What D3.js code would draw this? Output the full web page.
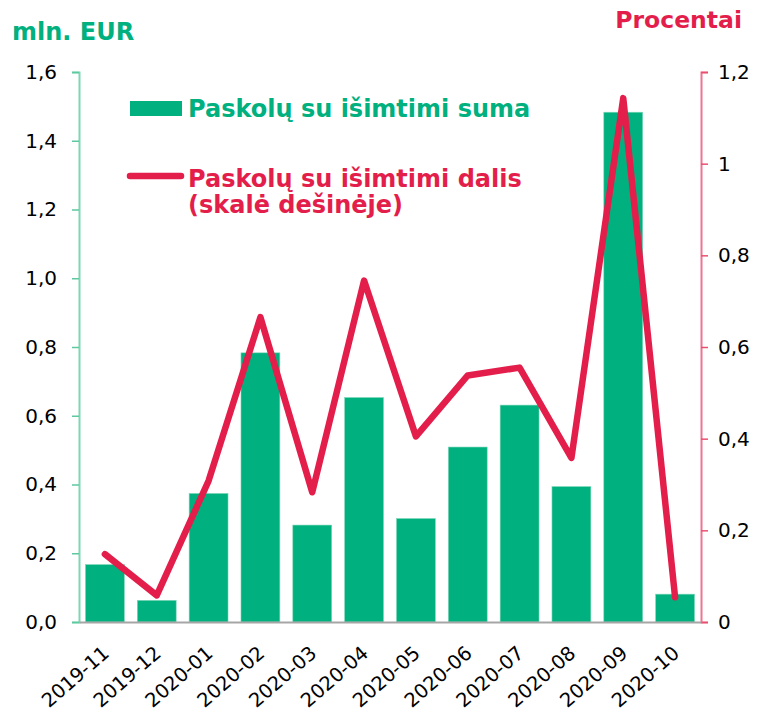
<!DOCTYPE html>
<html>
<head>
<meta charset="utf-8">
<script src="https://cdn.jsdelivr.net/npm/d3@7"></script>
<style>
  body { margin: 0; background: #fff; }
  svg text { font-family: "DejaVu Sans", Verdana, sans-serif; }
</style>
</head>
<body>
<div id="chart"></div>
<script>
// months on the x axis
const months = ["2019-11", "2019-12", "2020-01", "2020-02", "2020-03", "2020-04",
                "2020-05", "2020-06", "2020-07", "2020-08", "2020-09", "2020-10"];
// mln. EUR (left scale, bars)
const loanSum = [0.167, 0.063, 0.374, 0.783, 0.282, 0.653, 0.301, 0.509, 0.631, 0.394, 1.483, 0.081];
// percent (right scale, line)
const loanShare = [0.148, 0.058, 0.308, 0.665, 0.283, 0.745, 0.405, 0.538, 0.555, 0.358, 1.143, 0.054];

const leftTicks = [0, 0.2, 0.4, 0.6, 0.8, 1.0, 1.2, 1.4, 1.6];
const rightTicks = [0, 0.2, 0.4, 0.6, 0.8, 1.0, 1.2];

const green = "#00b07e";
const red = "#e31e4b";

const width = 759, height = 716;
const margin = {top: 72, right: 58, bottom: 94, left: 79};

const svg = d3.select("#chart").append("svg")
    .attr("width", width)
    .attr("height", height);

const xScale = d3.scaleBand()
    .domain(months)
    .range([margin.left, width - margin.right])
    .paddingInner(0.25)
    .paddingOuter(0.125);

const yLeft = d3.scaleLinear().domain([0, 1.6]).range([height - margin.bottom, margin.top]);
const yRight = d3.scaleLinear().domain([0, 1.2]).range([height - margin.bottom, margin.top]);

const fmtComma = d => d3.format(".1f")(d).replace(".", ",");
const fmtRight = d => (d === 0 || d === 1) ? String(d) : fmtComma(d);

// bars
svg.selectAll(".bar")
    .data(months).enter()
    .append("rect")
    .attr("class", "bar")
    .attr("x", d => xScale(d))
    .attr("y", (d, i) => yLeft(loanSum[i]))
    .attr("width", xScale.bandwidth())
    .attr("height", (d, i) => yLeft(0) - yLeft(loanSum[i]))
    .attr("fill", green)
    .attr("stroke", "#7fd8b8")
    .attr("stroke-width", 0.6);

// left axis
const axL = svg.append("g")
    .attr("transform", "translate(" + margin.left + ",0)")
    .call(d3.axisLeft(yLeft).tickValues(leftTicks).tickFormat(fmtComma).tickSize(7).tickPadding(15));
axL.select(".domain").attr("stroke", "#7fd6b4").attr("stroke-width", 2);
axL.selectAll(".tick line").attr("stroke", "#5cc99f").attr("stroke-width", 1.5);
axL.selectAll("text").style("font-size", "20px").attr("fill", "#000");

// right axis
const axR = svg.append("g")
    .attr("transform", "translate(" + (width - margin.right) + ",0)")
    .call(d3.axisRight(yRight).tickValues(rightTicks).tickFormat(fmtRight).tickSize(7).tickPadding(10));
axR.select(".domain").attr("stroke", "#ee7590").attr("stroke-width", 2);
axR.selectAll(".tick line").attr("stroke", "#e8506f").attr("stroke-width", 1.5);
axR.selectAll("text").style("font-size", "20px").attr("fill", "#000");

// bottom axis
const axB = svg.append("g")
    .attr("transform", "translate(0," + (height - margin.bottom) + ")")
    .call(d3.axisBottom(xScale).tickSize(0).tickPadding(12));
axB.select(".domain").attr("stroke", "#a6a6a6").attr("stroke-width", 2);
axB.selectAll("text")
    .style("font-size", "19.5px")
    .attr("fill", "#000")
    .attr("text-anchor", "end")
    .attr("x", 0).attr("y", 0).attr("dy", 0)
    .attr("transform", "translate(5.5,33) rotate(-41)");

// line
svg.append("path")
    .datum(months)
    .attr("fill", "none")
    .attr("stroke", red)
    .attr("stroke-width", 6.5)
    .attr("stroke-linejoin", "round")
    .attr("stroke-linecap", "round")
    .attr("d", d3.line()
        .x(d => xScale(d) + xScale.bandwidth() / 2)
        .y((d, i) => yRight(loanShare[i])));

// axis titles
svg.append("text")
    .text("mln. EUR")
    .attr("x", 12).attr("y", 40)
    .style("font-size", "24px").style("font-weight", "bold")
    .attr("fill", green);

svg.append("text")
    .text("Procentai")
    .attr("x", 742).attr("y", 28)
    .attr("text-anchor", "end")
    .style("font-size", "23.5px").style("font-weight", "bold")
    .attr("fill", red);

// legend
svg.append("rect")
    .attr("x", 130).attr("y", 101)
    .attr("width", 52).attr("height", 15)
    .attr("fill", green);
svg.append("text")
    .text("Paskolų su išimtimi suma")
    .attr("x", 188).attr("y", 117)
    .style("font-size", "24px").style("font-weight", "bold")
    .attr("fill", green);

svg.append("line")
    .attr("x1", 130).attr("x2", 181)
    .attr("y1", 176).attr("y2", 176)
    .attr("stroke", red).attr("stroke-width", 6.5)
    .attr("stroke-linecap", "round");
const lt = svg.append("text")
    .attr("x", 188).attr("y", 187)
    .style("font-size", "24px").style("font-weight", "bold")
    .attr("fill", red);
lt.append("tspan").attr("x", 188).text("Paskolų su išimtimi dalis");
lt.append("tspan").attr("x", 188).attr("dy", 26).text("(skalė dešinėje)");
</script>
</body>
</html>
